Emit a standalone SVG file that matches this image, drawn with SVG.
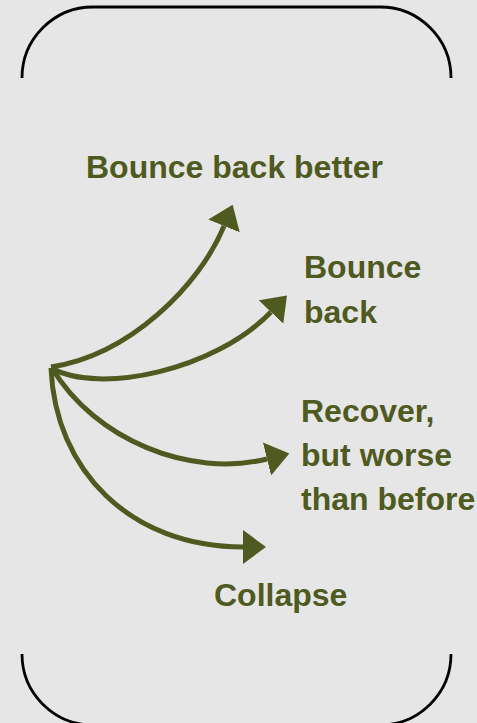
<svg xmlns="http://www.w3.org/2000/svg" width="477" height="723" viewBox="0 0 477 723">
  <style>
    .frame { fill: none; stroke: #000; stroke-width: 2.8; }
    .link { fill: none; stroke: #4e5a20; stroke-width: 5; marker-end: url(#head); }
    .label { font-family: "Liberation Sans", Arial, sans-serif; font-weight: bold; font-size: 32px; fill: #4e5a20; }
  </style>
  <defs>
    <marker id="head" markerUnits="userSpaceOnUse" viewBox="0 -17 23 34" refX="0" refY="0" markerWidth="23" markerHeight="34" orient="auto">
      <path d="M0,-17 L23,0 L0,17 z" fill="#4e5a20"/>
    </marker>
  </defs>
  <rect width="477" height="723" fill="#e6e6e6"/>

  <!-- bracket frame -->
  <g id="frame">
    <path class="frame" d="M22,78 A71,71 0 0 1 93,7 L380,7 A71,71 0 0 1 451,78"/>
    <path class="frame" d="M22,654 A71,71 0 0 0 93,725 L380,725 A71,71 0 0 0 451,654"/>
  </g>

  <!-- outcome arrows from the common origin -->
  <g id="connectors">
    <path class="link" d="M51,367 C130,355 200,285 224,226"/>
    <path class="link" d="M51,368 C100,395 215,370 271,312"/>
    <path class="link" d="M52,368 C95,440 190,478 267,459"/>
    <path class="link" d="M51,368 C55,470 130,547 243,547"/>
  </g>

  <g id="bounce-back-better">
    <text class="label" x="86" y="178">Bounce back better</text>
  </g>
  <g id="bounce-back">
    <text class="label" x="304" y="278">Bounce</text>
    <text class="label" x="304" y="323">back</text>
  </g>
  <g id="recover-worse">
    <text class="label" x="301" y="422">Recover,</text>
    <text class="label" x="301" y="466">but worse</text>
    <text class="label" x="301" y="510">than before</text>
  </g>
  <g id="collapse">
    <text class="label" x="214" y="606">Collapse</text>
  </g>
</svg>
